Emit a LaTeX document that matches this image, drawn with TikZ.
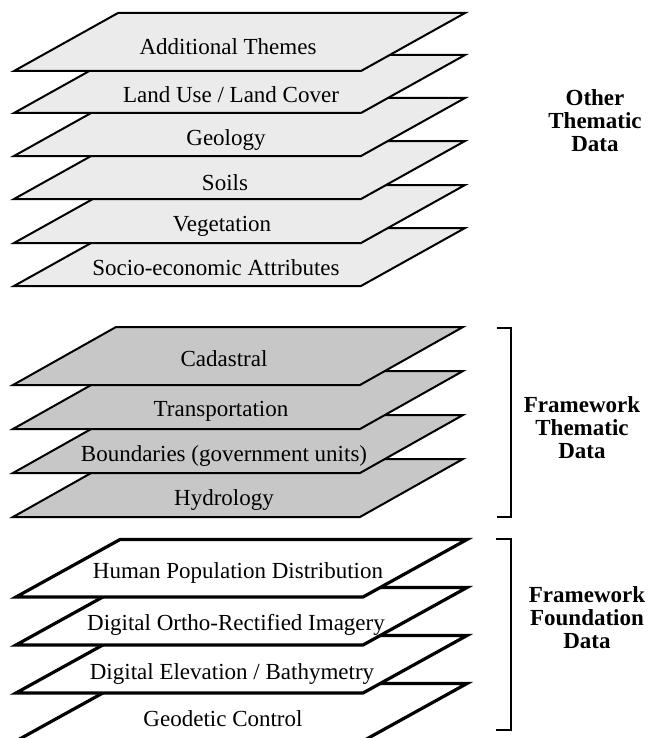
\documentclass[tikz,border=0pt]{standalone}
\usepackage{fontspec}
\setmainfont{Liberation Serif}
\begin{document}
\begin{tikzpicture}[x=0.5pt,y=-0.5pt,
    othersheet/.style={draw=black,fill=black!8,line width=1pt},
    themesheet/.style={draw=black,fill=black!22,line width=1pt},
    basesheet/.style={draw=black,fill=white,line width=1.6pt},
    sheetlabel/.style={inner sep=0pt,anchor=base,font=\fontsize{11.5}{13}\selectfont},
    grouplabel/.style={inner sep=0pt,align=center,font=\fontsize{11.5}{11.5}\selectfont\bfseries},
    bracket/.style={line width=1pt}]
    \useasboundingbox (0,0) rectangle (652,738);
    % other thematic data, drawn from the bottom sheet up
    \foreach \b/\tx/\ty/\lab [count=\i] in {286/216/275/Socio-economic Attributes,243/222/231/Vegetation,
        199/225/190/Soils,156/226/145/Geology,113/231/103/{Land Use / Land Cover},71/228/55/Additional Themes}{
    \filldraw[othersheet] (14,\b) -- ++(347,0) -- ++(104,-58) -- ++(-347,0) -- cycle;
    \node[sheetlabel] (other\i) at (\tx,\ty) {\lab};}
    \node[grouplabel] (otherdata) at (595,121) {Other\\Thematic\\Data};
    % framework thematic data
    \foreach \b/\tx/\ty/\lab [count=\i] in {517/224/505/Hydrology,473/224/461/Boundaries (government units),
        429/221/416/Transportation,385/224/366/Cadastral}{
    \filldraw[themesheet] (13,\b) -- ++(347,0) -- ++(103,-58) -- ++(-347,0) -- cycle;
    \node[sheetlabel] (theme\i) at (\tx,\ty) {\lab};}
    \draw[bracket] (497,328) -- (511,328) -- (511,517) -- (497,517);
    \node[grouplabel] (themedata) at (582,428) {Framework\\Thematic\\Data};
    % framework foundation data
    \foreach \b/\tx/\ty/\lab [count=\i] in {741/223/726/Geodetic Control,693/232/679/{Digital Elevation / Bathymetry},
        645/236/630/Digital Ortho-Rectified Imagery,597/238/578/Human Population Distribution}{
    \filldraw[basesheet] (16,\b) -- ++(347,0) -- ++(104,-57.5) -- ++(-347,0) -- cycle;
    \node[sheetlabel] (base\i) at (\tx,\ty) {\lab};}
    \draw[bracket] (496,539) -- (511,539) -- (511,730) -- (496,730);
    \node[grouplabel] (basedata) at (587,618) {Framework\\Foundation\\Data};
\end{tikzpicture}
\end{document}
